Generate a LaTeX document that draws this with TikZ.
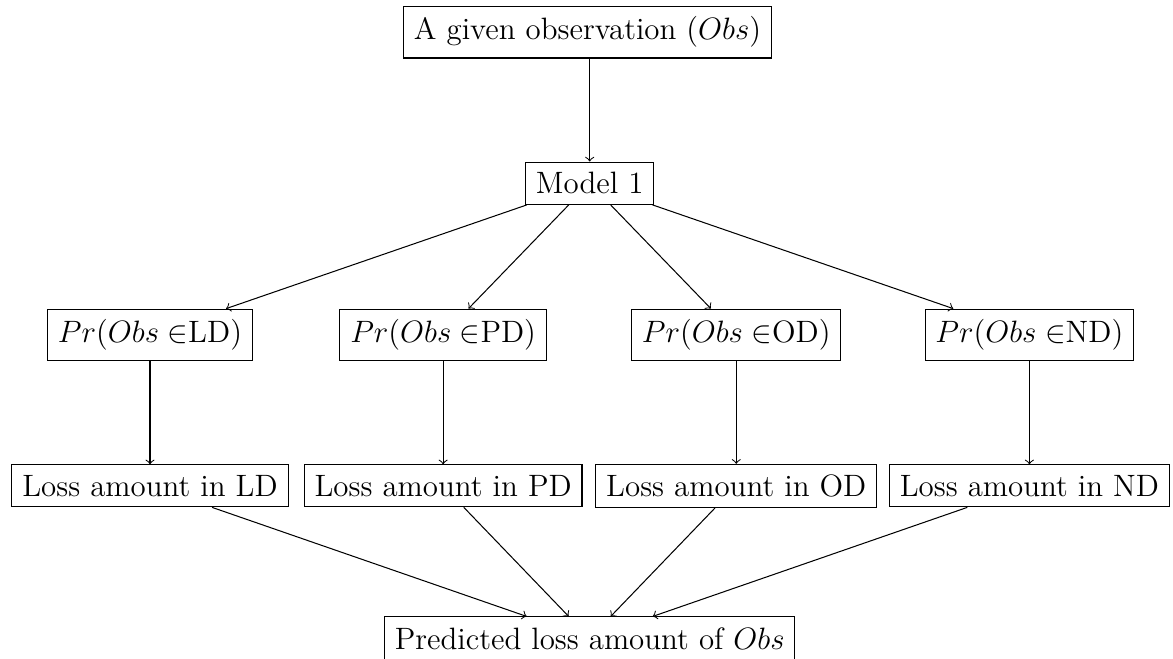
\documentclass[tikz,border=0pt,12pt]{standalone}
\usepackage{tikz}

\begin{document}
\begin{tikzpicture}[box/.style={draw}]
		%%%%% START %%%%%
		\useasboundingbox (-0.047, 0.44) rectangle (15.96, -8.54);
		
		\node[box] (obs) at (7.97, 0) {A given observation ($Obs$)};
		\node[box] (model) at (8, -2.06) {Model 1};
		
		\node[box] (prld) at (2, -4.13) {$Pr(Obs \in$LD$)$};
		\node[box] (prpd) at (6, -4.13) {$Pr(Obs \in$PD$)$};
		\node[box] (prod) at (10, -4.13) {$Pr(Obs \in$OD$)$};
		\node[box] (prnd) at (14, -4.13) {$Pr(Obs \in$ND$)$};
		
		\node[box] (lossld) at (2, -6.19) {Loss amount in LD};
		\node[box] (losspd) at (6, -6.19) {Loss amount in PD};
		\node[box] (lossod) at (10, -6.19) {Loss amount in OD};
		\node[box] (lossnd) at (14, -6.19) {Loss amount in ND};
		
		\node[box] (pred) at (8, -8.27) {Predicted loss amount of $Obs$};
		
		\draw[->] (obs.south -| model) -- (model);
		
		\draw[->] (model) -- (prld);
		\draw[->] (model) -- (prpd);
		\draw[->] (model) -- (prod);
		\draw[->] (model) -- (prnd);
		
		\draw[->] (prld) -- (lossld);
		\draw[->] (prpd) -- (losspd);
		\draw[->] (prod) -- (lossod);
		\draw[->] (prnd) -- (lossnd);
		
		\draw[->] (lossld) -- (pred);
		\draw[->] (losspd) -- (pred);
		\draw[->] (lossod) -- (pred);
		\draw[->] (lossnd) -- (pred);
		
		%%%%% END %%%%%
	\end{tikzpicture}
\end{document}
